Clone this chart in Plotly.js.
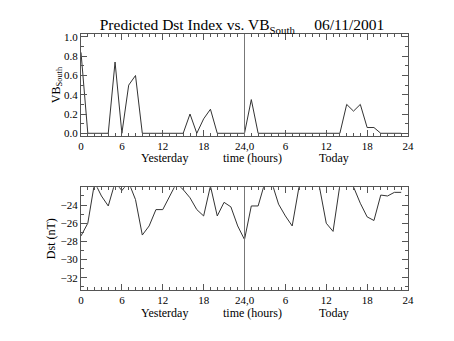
<!DOCTYPE html>
<html><head><meta charset="utf-8">
<script src="https://cdn.plot.ly/plotly-3.0.1.min.js"></script>
<style>html,body{margin:0;padding:0;background:#fff}#c{width:454px;height:341px}</style>
</head><body><div id="c"></div>
<script>
const hours = [0,1,2,3,4,5,6,7,8,9,10,11,12,13,14,15,16,17,18,19,20,21,22,23,24,25,26,27,28,29,30,31,32,33,34,35,36,37,38,39,40,41,42,43,44,45,46,47];
const vbSouth = [0.84,0,0,0,0,0.74,0,0.5,0.6,0,0,0,0,0,0,0,0.2,0,0.15,0.25,0,0,0,0,0,0.35,0,0,0,0,0,0,0,0,0,0,0,0,0,0.3,0.23,0.3,0.06,0.06,0,0,0,0];
const dst = [-27.4,-26.0,-21.5,-23.0,-24.1,-21.5,-22.4,-21.5,-23.4,-27.3,-26.3,-24.5,-24.5,-23.0,-21.6,-22.3,-23.2,-24.5,-25.2,-21.9,-25.2,-23.7,-24.2,-26.3,-27.8,-24.1,-24.1,-21.5,-21.5,-23.9,-25.2,-26.3,-22.0,-21.5,-21.5,-22.0,-26.0,-26.9,-21.8,-21.5,-22.0,-23.8,-25.3,-25.7,-22.9,-23.0,-22.6,-22.6];
const xTickVals = [0,6,12,18,24,30,36,42,48];
const xTickText = ['0','6','12','18','24,0','6','12','18','24'];
const dayLabels = ['Yesterday','time (hours)','Today'];
const dayLabelPos = [12.3,25.2,37.2];

const F = 'Liberation Serif, DejaVu Serif, serif';
const axCol = '#555';
function xax(anchor){
  return {domain:[0,1], range:[0,48], anchor:anchor, showgrid:false, zeroline:false,
    showline:true, linecolor:axCol, linewidth:1, mirror:'ticks',
    ticks:'inside', ticklen:6, tickcolor:axCol, tickvals:xTickVals, ticktext:xTickText,
    tickfont:{family:F,size:11,color:'#000'},
    minor:{dtick:1, tick0:0, ticks:'inside', ticklen:3, tickcolor:axCol}};
}
const layout = {
  width:454, height:341, margin:{l:81,r:46,t:34,b:51},
  paper_bgcolor:'#fff', plot_bgcolor:'#fff', showlegend:false,
  font:{family:F,size:11,color:'#000'},
  title:{text:'Predicted Dst Index vs. VB<sub>South</sub>\u00A0\u00A0\u00A0\u00A0 06/11/2001',
    font:{family:F,size:15.5,color:'#000'}, x:242/454, xanchor:'center', xref:'container', y:1-25/341, yanchor:'middle', yref:'container'},
  xaxis: xax('y'),
  xaxis2: xax('y2'),
  yaxis:{domain:[0.6016,1], range:[-0.028,1.031], anchor:'x', showgrid:false, zeroline:false,
    showline:true, linecolor:axCol, mirror:'ticks', ticks:'inside', ticklen:6, tickcolor:axCol,
    tickvals:[0,0.2,0.4,0.6,0.8,1.0], ticktext:['0.0','0.2','0.4','0.6','0.8','1.0'],
    minor:{dtick:0.1, ticks:'inside', ticklen:3, tickcolor:axCol},
    title:{text:'VB<sub>South</sub>', font:{family:F,size:12,color:'#000'}, standoff:0}},
  yaxis2:{domain:[0,0.401], range:[-33.35,-22.05], anchor:'x2', showgrid:false, zeroline:false,
    showline:true, linecolor:axCol, mirror:'ticks', ticks:'inside', ticklen:6, tickcolor:axCol,
    tickvals:[-24,-26,-28,-30,-32],
    minor:{dtick:1, tick0:-24, ticks:'inside', ticklen:3, tickcolor:axCol},
    title:{text:'Dst (nT)', font:{family:F,size:12,color:'#000'}, standoff:2}},
  shapes:[
    {type:'line', xref:'x', yref:'y domain', x0:24, x1:24, y0:0, y1:1, line:{color:'#777', width:1}},
    {type:'line', xref:'x2', yref:'y2 domain', x0:24, x1:24, y0:0, y1:1, line:{color:'#777', width:1}}
  ],
  annotations:[]
};
[['x','y domain',-22],['x2','y2 domain',-23]].forEach(([xr,yr,sh])=>{
  dayLabels.forEach((t,i)=>layout.annotations.push({text:t, xref:xr, yref:yr, x:dayLabelPos[i], y:0,
    yanchor:'middle', xanchor:'center', yshift:sh, showarrow:false, font:{family:F,size:12,color:'#000'}}));
});
const data = [
  {x:hours, y:vbSouth, xaxis:'x', yaxis:'y', type:'scatter', mode:'lines', line:{color:'#333', width:1}},
  {x:hours, y:dst, xaxis:'x2', yaxis:'y2', type:'scatter', mode:'lines', line:{color:'#333', width:1}}
];
Plotly.newPlot('c', data, layout, {displayModeBar:false, staticPlot:true});
</script></body></html>
